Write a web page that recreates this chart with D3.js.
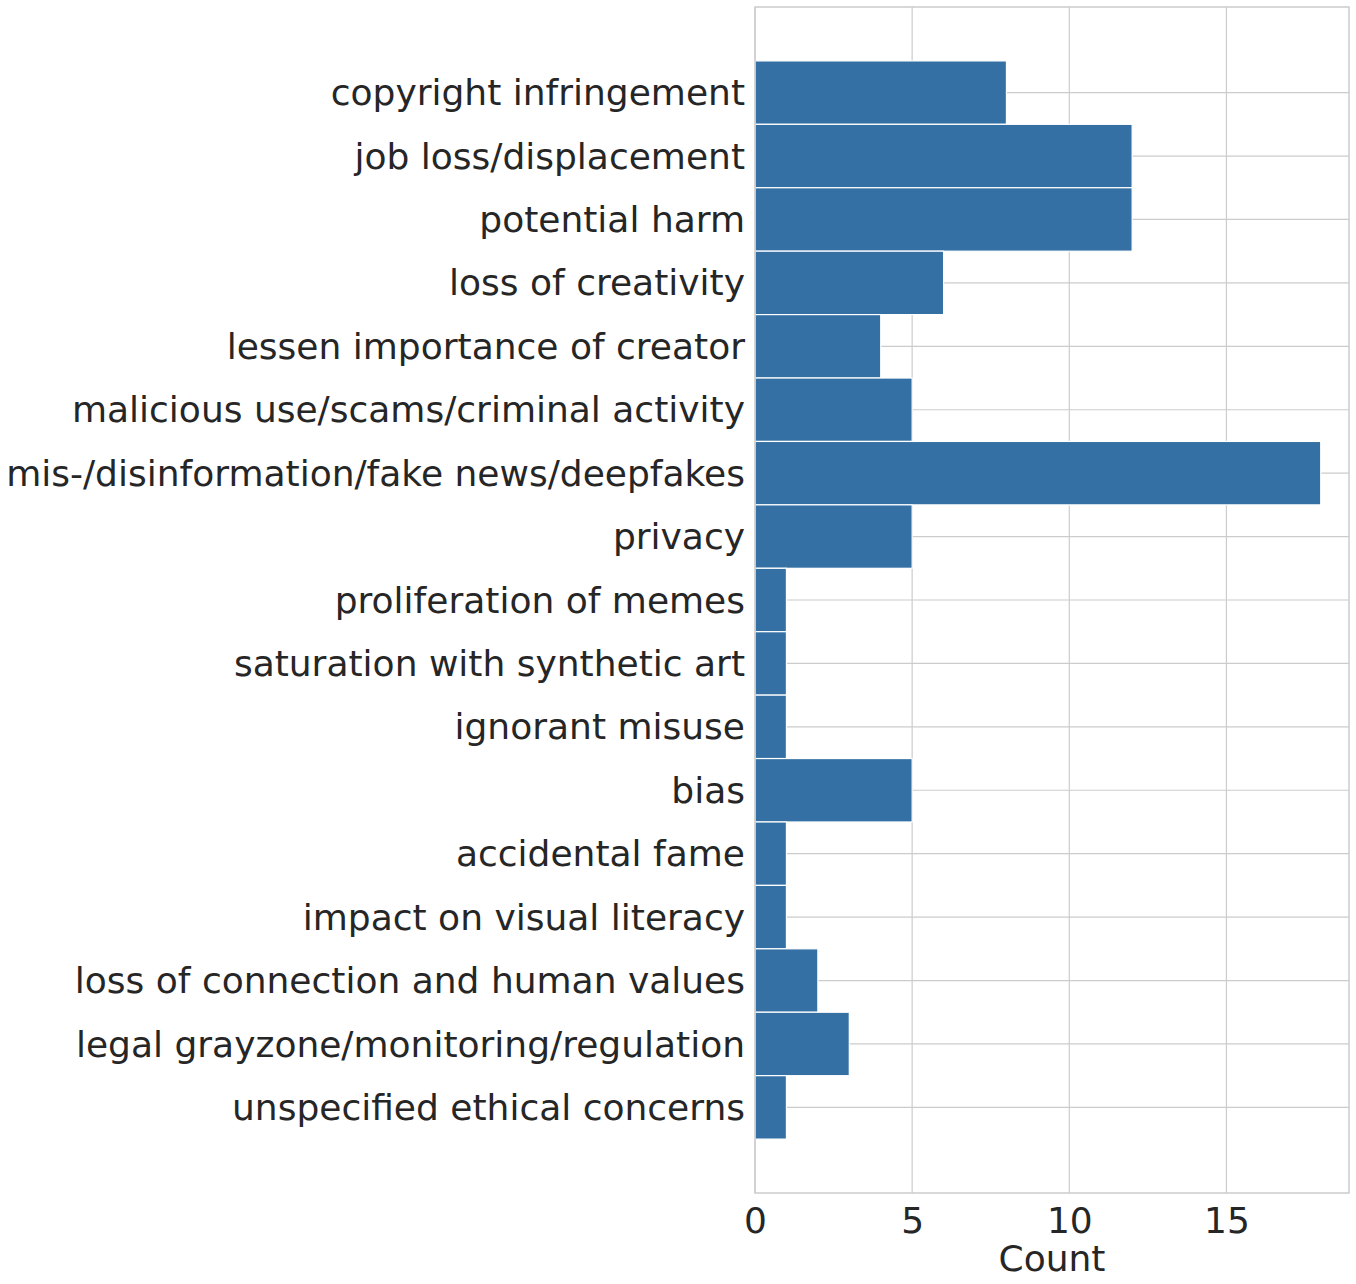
<!DOCTYPE html>
<html>
<head>
<meta charset="utf-8">
<script src="https://cdn.jsdelivr.net/npm/d3@7"></script>
<style>
  body { margin: 0; background: #fff; }
  text { font-family: "DejaVu Sans", sans-serif; fill: #262626; }
</style>
</head>
<body>
<div id="chart"></div>
<script>
// categories and counts
const categories = [
  "copyright infringement",
  "job loss/displacement",
  "potential harm",
  "loss of creativity",
  "lessen importance of creator",
  "malicious use/scams/criminal activity",
  "mis-/disinformation/fake news/deepfakes",
  "privacy",
  "proliferation of memes",
  "saturation with synthetic art",
  "ignorant misuse",
  "bias",
  "accidental fame",
  "impact on visual literacy",
  "loss of connection and human values",
  "legal grayzone/monitoring/regulation",
  "unspecified ethical concerns"
]
const counts = [8, 12, 12, 6, 4, 5, 18, 5, 1, 1, 1, 5, 1, 1, 2, 3, 1]
const xTicks = [0, 5, 10, 15]

const width = 1356
const height = 1284
const margin = { top: 7, right: 7, bottom: 91, left: 755 }
const innerW = width - margin.left - margin.right
const innerH = height - margin.top - margin.bottom
const fontSize = 36

const svg = d3.select("#chart")
  .append("svg")
    .attr("width", width)
    .attr("height", height)

const g = svg.append("g")
    .attr("transform", "translate(" + margin.left + "," + margin.top + ")")

// x: counts, with the matplotlib 5% margin on the right
const x = d3.scaleLinear()
  .domain([0, d3.max(counts) * 1.05])
  .range([0, innerW])

// y: one full-width band per category
const y = d3.scaleBand()
  .domain(categories)
  .range([0, innerH])
  .paddingInner(0)
  .paddingOuter(0.85)

// grid lines
g.append("g")
  .selectAll("line")
  .data(xTicks)
  .join("line")
    .attr("x1", d => x(d)).attr("x2", d => x(d))
    .attr("y1", 0).attr("y2", innerH)
    .attr("stroke", "#cccccc")
    .attr("stroke-width", 1.2)

g.append("g")
  .selectAll("line")
  .data(categories)
  .join("line")
    .attr("x1", 0).attr("x2", innerW)
    .attr("y1", d => y(d) + y.bandwidth() / 2)
    .attr("y2", d => y(d) + y.bandwidth() / 2)
    .attr("stroke", "#cccccc")
    .attr("stroke-width", 1.2)

// bars
g.append("g")
  .selectAll("rect")
  .data(categories)
  .join("rect")
    .attr("x", x(0))
    .attr("y", d => y(d))
    .attr("width", (d, i) => x(counts[i]) - x(0))
    .attr("height", y.bandwidth())
    .attr("fill", "#3470a3")
    .attr("stroke", "#ffffff")
    .attr("stroke-width", 1.2)

// frame
g.append("rect")
  .attr("x", 0).attr("y", 0)
  .attr("width", innerW).attr("height", innerH)
  .attr("fill", "none")
  .attr("stroke", "#cccccc")
  .attr("stroke-width", 1.5)

// y axis labels
const yAxis = g.append("g")
  .call(d3.axisLeft(y).tickSize(0).tickPadding(10))
yAxis.select(".domain").remove()
yAxis.selectAll("text")
  .attr("font-size", fontSize)
  .attr("font-family", "DejaVu Sans")
  .attr("fill", "#262626")
  .attr("dy", "0.35em")

// x axis labels
const xAxis = g.append("g")
  .attr("transform", "translate(0," + innerH + ")")
  .call(d3.axisBottom(x).tickValues(xTicks).tickSize(0).tickPadding(14))
xAxis.select(".domain").remove()
xAxis.selectAll("text")
  .attr("font-size", fontSize)
  .attr("font-family", "DejaVu Sans")
  .attr("fill", "#262626")

// x label
g.append("text")
  .attr("x", innerW / 2)
  .attr("y", innerH + 78)
  .attr("text-anchor", "middle")
  .attr("font-size", fontSize)
  .text("Count")
</script>
</body>
</html>
